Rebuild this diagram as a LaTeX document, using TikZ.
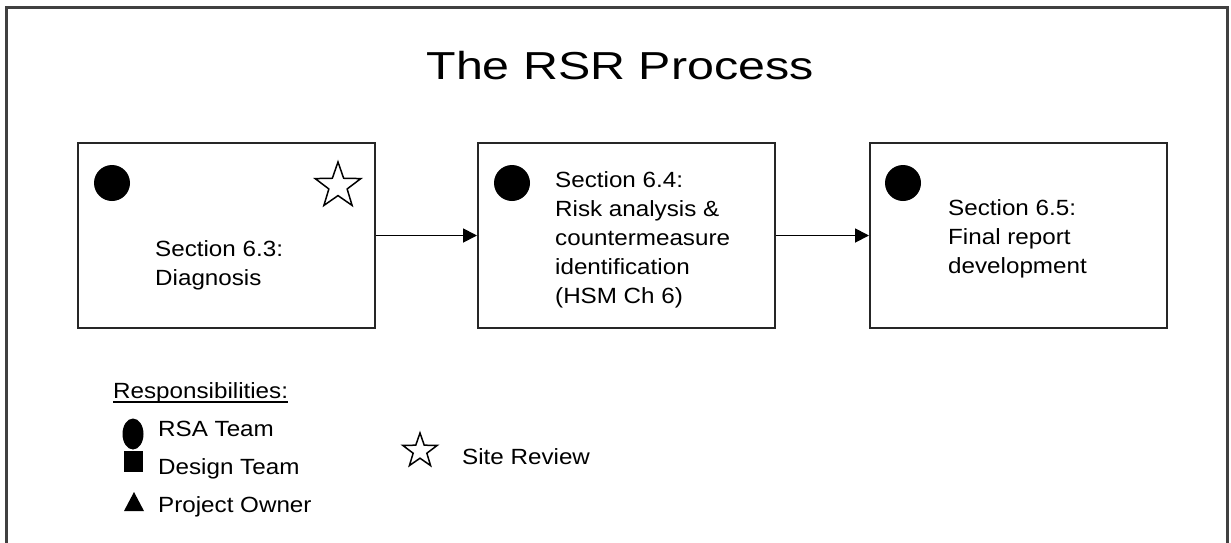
\documentclass[tikz,border=0pt]{standalone}
\usepackage{fontspec}
\setmainfont{Liberation Sans}
\newfontfamily\bodyfont[FakeStretch=1.1]{Liberation Sans}
\newfontfamily\headfont[FakeStretch=1.24]{Liberation Sans}
\usetikzlibrary{arrows.meta,shapes.geometric}

\begin{document}
\begin{tikzpicture}[x=1pt,y=-1pt,
  stepbox/.style={draw=black!85, line width=2pt, minimum width=297pt,
    minimum height=185pt, inner sep=0pt, anchor=north west},
  steptext/.style={anchor=north west, inner sep=0pt, align=left,
    font=\bodyfont\fontsize{22}{29}\selectfont},
  dot/.style={circle, fill=black, minimum size=36pt, inner sep=0pt},
  starmark/.style={star, star points=5, star point ratio=2.5, draw=black,
    line width=1.5pt, inner sep=0pt},
  flow/.style={line width=1.8pt, -{Triangle[length=14pt,width=14pt]}},
  legendtext/.style={anchor=base west, inner sep=0pt,
    font=\bodyfont\fontsize{22}{29}\selectfont}]

\useasboundingbox (0,0) rectangle (1231,542);
\clip (0,0) rectangle (1231,542);
\fill[white] (0,0) rectangle (1231,542);

% outer frame (open at the bottom edge)
\draw[line width=3pt, draw=black!75] (6,560) -- (6,7) -- (1227,7) -- (1227,560);

% heading
\node[anchor=base, inner sep=0pt, font=\headfont\fontsize{39}{39}\selectfont]
  (title) at (620,79) {The RSR Process};

% process steps
\node[stepbox] (b1) at (77,142) {};
\node[stepbox] (b2) at (477,142) {};
\node[stepbox] (b3) at (869,142) {};

\node[dot] (d1) at (112,183) {};
\node[dot] (d2) at (512,183) {};
\node[dot] (d3) at (903,183) {};
\node[starmark, minimum size=48pt] (s1) at (338,186) {};

\node[steptext] (t1) at (155,240) {Section 6.3:\\Diagnosis};
\node[steptext] (t2) at (555,171) {Section 6.4:\\Risk analysis \&\\countermeasure\\identification\\(HSM Ch 6)};
\node[steptext] (t3) at (948,199) {Section 6.5:\\Final report\\development};

\draw[flow] (b1.east) -- (b2.west);
\draw[flow] (b2.east) -- (b3.west);

% legend
\node[legendtext] (resp) at (113,398) {Responsibilities:};
\draw[line width=1.3pt] ([yshift=-4pt]resp.base west) -- ([yshift=-4pt]resp.base east);

\node[ellipse, fill=black, minimum width=21pt, minimum height=31pt, inner sep=0pt] (lg1) at (133,434) {};
\node[legendtext] (lt1) at (158,436) {RSA Team};

\node[rectangle, fill=black, minimum width=19pt, minimum height=21pt, inner sep=0pt] (lg2) at (133.5,461.5) {};
\node[legendtext] (lt2) at (158,474) {Design Team};

\fill[black] (134,492) -- (124,511) -- (144,511) -- cycle;
\node[legendtext] (lt3) at (158,512) {Project Owner};

\node[starmark, minimum size=36pt] (lg4) at (420,451) {};
\node[legendtext] (lt4) at (462,464) {Site Review};
\end{tikzpicture}
\end{document}
